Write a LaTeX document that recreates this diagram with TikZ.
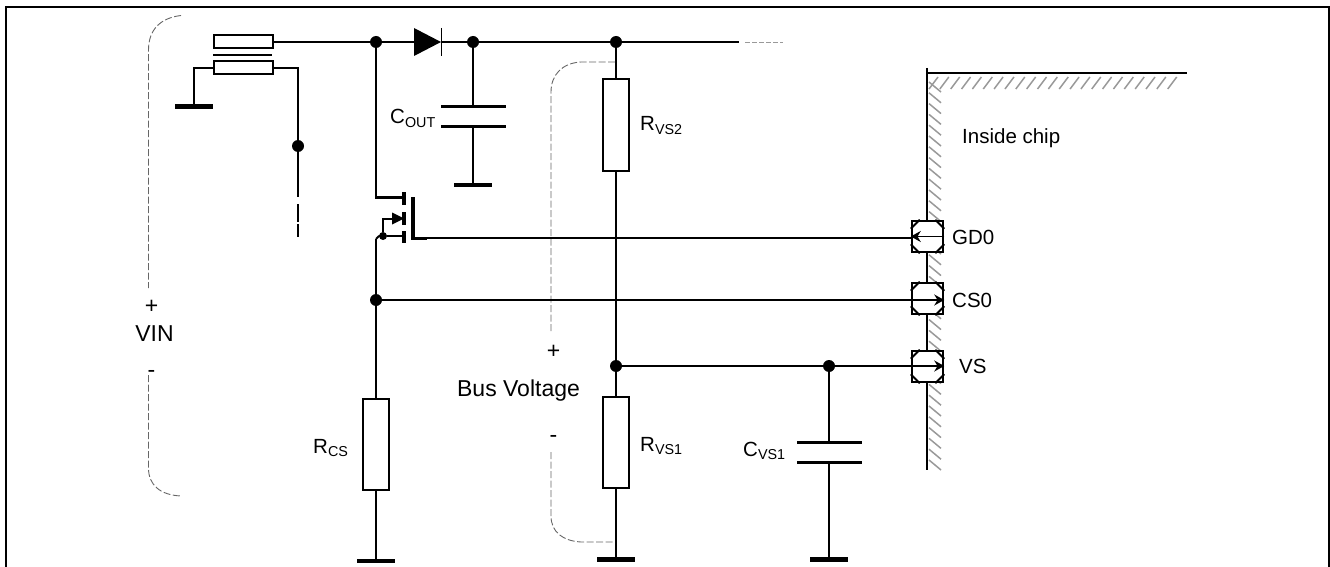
\documentclass[tikz,border=0pt]{standalone}
\usepackage{fontspec}
\setmainfont{Liberation Sans}
\usepackage{tikz}
\usetikzlibrary{arrows.meta,positioning,calc}
\tikzset{
  >=Stealth,
  wire/.style={line width=2pt},
  sigwire/.style={line width=1.7pt},
  lbl/.style={font=\fontsize{20.5}{22}\selectfont, inner sep=0pt},
  biglbl/.style={font=\fontsize{23}{25}\selectfont, inner sep=0pt},
  rbox/.style={rectangle, draw, line width=2pt, fill=white, minimum width=26pt, minimum height=91pt, inner sep=0pt},
  tbox/.style={rectangle, draw, line width=2pt, fill=white, minimum width=59pt, minimum height=13pt, inner sep=0pt},
  dot/.style={circle,fill=black,inner sep=0pt,minimum size=12pt},
  sdot/.style={circle,fill=black,inner sep=0pt,minimum size=8pt},
  gnd/.style={line width=4.6pt},
  plate/.style={line width=3pt},
  brace/.style={dash pattern=on 7pt off 2.5pt, black!60, line width=0.9pt},
  hatch/.style={black!40, line width=1.5pt},
  pad/.style={rectangle, draw, line width=2.5pt, fill=white, minimum size=31pt, inner sep=0pt},
  pin/.style={-{Stealth[length=10pt,width=11pt]}, line width=1.4pt}
}
\newcommand{\sub}[1]{\textsubscript{#1}}
\begin{document}
\begin{tikzpicture}[x=1pt,y=-1pt]
    \useasboundingbox (0,0) rectangle (1330,567);
    % frame
    \draw[line width=2pt] (6,567) -- (6,6.8) -- (1328.8,6.8) -- (1328.8,567);

    % VIN brace
    \draw[brace] (181,15.5) .. controls (160,18) and (148.5,30) .. (148.5,50) -- (148.5,288);
    \draw[brace] (148.5,375) -- (148.5,468) .. controls (148.5,485) and (160,495) .. (181,496);
    \node[biglbl] (vinp) at (151.5,307) {+};
    \node[biglbl] (vin) at (154.5,334) {VIN};
    \node[biglbl] (vinm) at (151.5,374) {-};

    % transformer
    \node[tbox] (t1) at (243,42) {};
    \node[tbox] (t2) at (243,68) {};
    \draw[line width=2pt] (213,55) -- (272,55);
    \coordinate (g1) at (194,106);
    \draw[gnd] (175,106.5) -- (213,106.5);
    \draw[wire] (t2.west) -| (g1);
    \coordinate (aux) at (298,146);
    \node[dot] (auxdot) at (298,146) {};
    \draw[wire] (t2.east) -| (aux);
    \coordinate (auxe) at (298,197);
    \draw[wire] (auxdot) -- (auxe);
    \draw[line width=1.3pt] (298,204) -- (298,222);
    \draw[line width=1.3pt] (298,224) -- (298,237);

    % top rail
    \node[dot] (n1) at (376,42) {};
    \node[dot] (n2) at (473,42) {};
    \node[dot] (n3) at (616,42) {};
    \coordinate (d0) at (414,42);
    \coordinate (d1) at (442,42);
    \coordinate (railend) at (739,42);
    \draw[wire] (t1.east) -- (n1) -- (d0);
    \draw[wire] (d1) -- (n2) -- (n3) -- (railend);
    \fill (d0) ++(0,-14) -- ++(27,14) -- ++(-27,14) -- cycle;
    \draw[line width=1.6pt] (441.5,28) -- (441.5,56);
    \draw[brace, black!40, dash pattern=on 5pt off 2pt] (745,42) -- (783,42);

    % COUT
    \coordinate (co1) at (473,107);
    \coordinate (co2) at (473,127);
    \coordinate (cog) at (473,185);
    \draw[wire] (n2) -- (co1);
    \draw[plate] (441,106.7) -- (506,106.7);
    \draw[plate] (441,126.7) -- (506,126.7);
    \draw[wire] (co2) -- (cog);
    \draw[gnd] (454,185) -- (492,185);
    \node[lbl,anchor=base west] (cout) at (390,124) {C\sub{OUT}};

    % MOSFET
    \coordinate (md) at (376,197);
    \coordinate (ms) at (376,239);
    \draw[wire] (n1) -- (md);
    \draw[line width=3pt] (375,197.5) -- (404,197.5);
    \draw[line width=4pt] (404,192) -- (404,205);
    \draw[line width=4pt] (404,212) -- (404,225);
    \draw[line width=4pt] (404,231) -- (404,243);
    \draw[line width=4pt] (413,197) -- (413,239);
    \draw[line width=3pt] (411,238) -- (427,238);
    \node[sdot] (mb) at (383,236) {};
    \draw[line width=2pt] (mb) -- (404,236);
    \draw[line width=2pt] (mb) -- (383,218.5) -- (393,218.5);
    \fill (392,212.5) -- (404,218.5) -- (392,224.5) -- cycle;
    \draw[line width=2pt] (mb) -- (379,236) -- (376,239);

    % RCS
    \node[dot] (n4) at (376,300) {};
    \node[rbox] (rcs) at (376,444) {};
    \coordinate (rcsg) at (376,561);
    \draw[wire] (ms) -- (n4) -- (rcs.north);
    \draw[wire] (rcs.south) -- (rcsg);
    \draw[gnd] (357,561) -- (395,561);
    \node[lbl,anchor=base west] (rcslbl) at (313,453) {R\sub{CS}};

    % RVS2, RVS1
    \node[rbox] (rvs2) at (616,125) {};
    \node[rbox] (rvs1) at (616,442) {};
    \node[dot] (n5) at (616,366) {};
    \coordinate (rvsg) at (616,559);
    \draw[wire] (n3) -- (rvs2.north);
    \draw[wire] (rvs2.south) -- (n5) -- (rvs1.north);
    \draw[wire] (rvs1.south) -- (rvsg);
    \draw[gnd] (597,559.5) -- (635,559.5);
    \node[lbl,anchor=base west] (rvs2lbl) at (640,131) {R\sub{VS2}};
    \node[lbl,anchor=base west] (rvs1lbl) at (640,451) {R\sub{VS1}};

    % Bus Voltage brace
    \draw[brace] (615,62) -- (581,62) .. controls (562,63) and (551,75) .. (551,92) -- (551,333);
    \draw[brace] (551,452) -- (551,516) .. controls (551,532) and (563,541) .. (581,542) -- (615,542);
    \node[biglbl] (busp) at (553.5,352) {+};
    \node[biglbl] (bus) at (518.5,391) {Bus Voltage};
    \node[biglbl] (busm) at (553.5,439) {-};

    % CVS1
    \node[dot] (n6) at (829,366) {};
    \coordinate (cv1) at (829,442);
    \coordinate (cv2) at (829,462);
    \coordinate (cvg) at (829,559);
    \draw[wire] (n6) -- (cv1);
    \draw[plate] (797,442.5) -- (862,442.5);
    \draw[plate] (797,462) -- (862,462);
    \draw[wire] (cv2) -- (cvg);
    \draw[gnd] (810,559.5) -- (848,559.5);
    \node[lbl,anchor=base west] (cvslbl) at (743,456) {C\sub{VS1}};

    % chip edge
    \foreach \hx in {0,1,...,22} {
      \draw[hatch] ({929+\hx*10.85},89) -- ({938+\hx*10.85},77);
    }
    \foreach \hy in {0,1,...,35} {
      \draw[hatch] (929,{82+\hy*10.8}) -- (941,{92+\hy*10.8});
    }
    \draw[line width=2pt] (927,68) -- (927,470);
    \draw[line width=2pt] (927,73) -- (1187,73);
    \node[lbl,anchor=base west] (chip) at (962,143) {Inside chip};

    % pads
    \foreach \pname/\py in {gd/236.5,cs/298.5,vs/366.5} {
      \node[pad] (\pname) at (927.5,\py) {};
      \draw[line width=2pt] (\pname.north west) ++(0,9) -- ++(9,-9);
      \draw[line width=2pt] (\pname.north east) ++(0,9) -- ++(-9,-9);
      \draw[line width=2pt] (\pname.south west) ++(0,-9) -- ++(9,9);
      \draw[line width=2pt] (\pname.south east) ++(0,-9) -- ++(-9,9);
    }
    \draw[sigwire] (427,238) -- (911,238);
    \draw[pin] (gd.east) -- (gd.west);
    \draw[sigwire] (n4) -- (cs.west |- n4);
    \draw[pin] (cs.west |- n4) -- (cs.east |- n4);
    \draw[sigwire] (n5) -- (n6) -- (vs.west |- n6);
    \draw[pin] (vs.west |- n6) -- (vs.east |- n6);
    \node[lbl,anchor=base west] (gdlbl) at (952,244) {GD0};
    \node[lbl,anchor=base west] (cslbl) at (952,307) {CS0};
    \node[lbl,anchor=base west] (vslbl) at (959,373) {VS};
\end{tikzpicture}
\end{document}
